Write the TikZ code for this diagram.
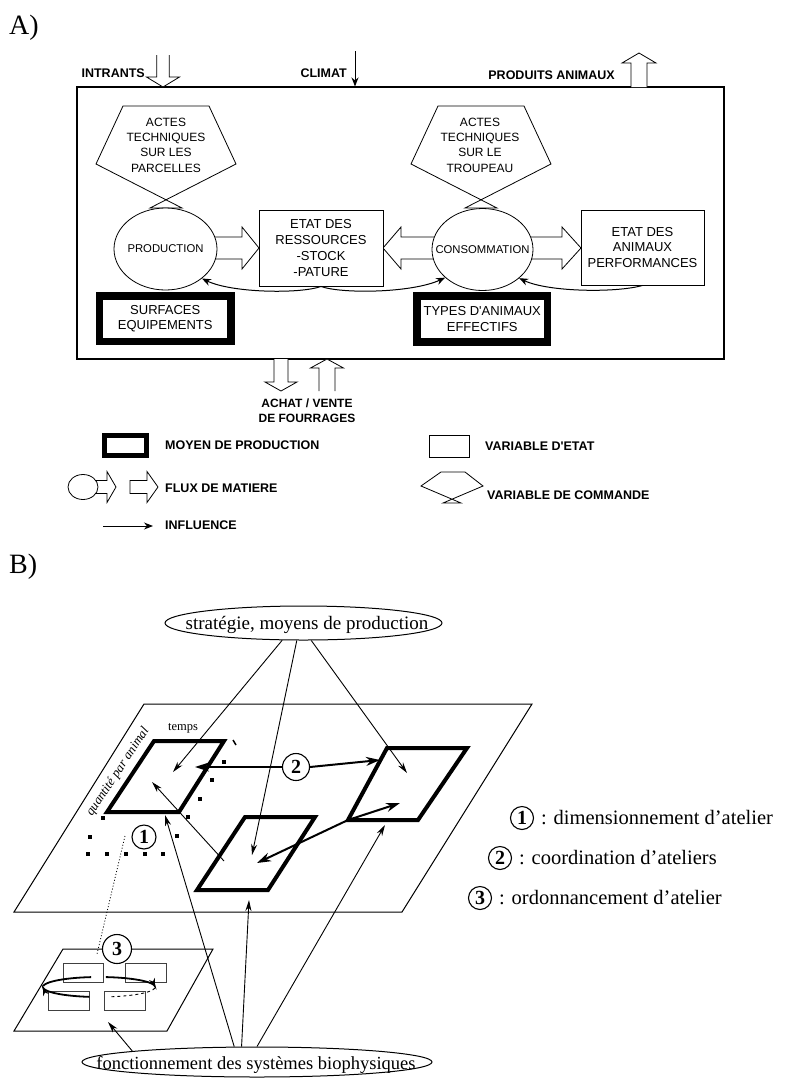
\documentclass[tikz,border=0pt]{standalone}
\usepackage{fontspec}
\setmainfont{Liberation Serif}
\newfontfamily\arialf{Liberation Sans}
\usetikzlibrary{arrows.meta,backgrounds,shapes.geometric}
\tikzset{
  pics/harrow/.style args={#1/#2/#3/#4}{code={%
    \fill[white] (0,-#2) -- (#1-#4,-#2) -- (#1-#4,-#3) -- (#1,0) -- (#1-#4,#3) -- (#1-#4,#2) -- (0,#2) -- cycle;
    \draw[line width=0.8pt, line join=miter] (0,-#2) -- (#1-#4,-#2) -- (#1-#4,-#3) -- (#1,0) -- (#1-#4,#3) -- (#1-#4,#2) -- (0,#2);}},
  pics/harrowc/.style args={#1/#2/#3/#4}{code={%
    \draw[line width=0.8pt, line join=miter, fill=white] (0,-#2) -- (#1-#4,-#2) -- (#1-#4,-#3) -- (#1,0) -- (#1-#4,#3) -- (#1-#4,#2) -- (0,#2) -- cycle;}},
  lbl/.style={font=\arialf\bfseries\fontsize{12.5}{15}\selectfont, inner sep=0pt},
  boxtxt/.style={font=\arialf\fontsize{13}{15.7}\selectfont, align=center, inner sep=0pt},
  cmdtxt/.style={font=\arialf\fontsize{12}{15.3}\selectfont, align=center, inner sep=0pt},
  celltxt/.style={font=\arialf\fontsize{11.3}{13}\selectfont, inner sep=0pt},
  statebox/.style={draw, line width=0.9pt, fill=white, inner sep=0pt},
  meanbox/.style={draw, line width=7.5pt, fill=white, inner sep=0pt, line join=miter},
  cell/.style={draw, ellipse, line width=0.8pt, fill=white, inner sep=0pt},
  infl/.style={-{Stealth[length=9pt,width=7pt]}, line width=1pt},
  cmdshape/.style={line width=0.8pt, line join=miter},
  serif/.style={font=\fontsize{20.5}{24}\selectfont, inner sep=0pt},
  plane/.style={line width=1pt},
  atelier/.style={line width=4pt, line join=miter},
  thinarr/.style={-{Stealth[length=11pt,width=6pt]}, line width=0.9pt},
  thickarr/.style={-{Stealth[length=14pt,width=9pt]}, line width=2pt},
  num/.style={draw, circle, line width=1.1pt, fill=white, inner sep=0pt, font=\bfseries\fontsize{20}{20}\selectfont},
  bigtitle/.style={font=\fontsize{28}{28}\selectfont, anchor=west, inner sep=0pt},
  ell/.style={draw, ellipse, line width=1pt, inner sep=0pt},
}
\begin{document}
\begin{tikzpicture}[x=1pt,y=-1pt]
\useasboundingbox (0,0) rectangle (785,1080);
\begin{pgfonlayer}{background}
\fill[white] (0,0) rectangle (785,1080);
\end{pgfonlayer}

% ================= A =================
\node[bigtitle] (labA) at (9,28) {A)};
\node[draw, line width=1.1pt, minimum width=647pt, minimum height=272pt, inner sep=0pt] (sys) at (400.5,223) {};

\node[lbl, anchor=east] (intr) at (145,73) {INTRANTS};
\coordinate (intrtail) at (163,55);
\pic[rotate=-90] at (intrtail) {harrow=32/6.25/16.5/10};
\node[lbl, anchor=east] (clim) at (347,73) {CLIMAT};
\coordinate (climtop) at (355,51);
\draw[infl] (climtop) -- (climtop |- sys.north);
\node[lbl, anchor=east] (prodan) at (615,75) {PRODUITS ANIMAUX};
\coordinate (prodtail) at (639,87);
\pic[rotate=90] at (prodtail) {harrow=34/8/17/10};

% commands (pentagons)
\draw[cmdshape] (96,164) -- (123,106) -- (209,106) -- (236,164) -- (150,208) -- (182,208) -- cycle;
\draw[cmdshape] (411,164) -- (438,106) -- (524,106) -- (551,164) -- (465,208) -- (497,208) -- cycle;
\node[cmdtxt] (cmdL) at (166,145) {ACTES\\TECHNIQUES\\SUR LES\\PARCELLES};
\node[cmdtxt] (cmdR) at (480,145) {ACTES\\TECHNIQUES\\SUR LE\\TROUPEAU};

% flows (hollow arrows, behind)
\begin{pgfonlayer}{background}
\pic at (200,248) {harrow=59/11/21/17};
\pic[rotate=180] at (445,248) {harrow=62/11/21/18};
\pic at (520,248) {harrow=61/11/21/19};
\pic at (92,487) {harrow=24/6.5/15.5/9};
\end{pgfonlayer}

\node[cell, minimum width=103pt, minimum height=82pt] (prod) at (165.5,249) {};
\node[celltxt] at (prod) {PRODUCTION};
\node[cell, minimum width=101pt, minimum height=82pt] (cons) at (482.5,249.5) {};
\node[celltxt] at (cons) {CONSOMMATION};

\node[statebox, boxtxt, minimum width=124pt, minimum height=76pt] (res) at (321,248) {ETAT DES\\RESSOURCES\\-STOCK\\-PATURE};
\node[statebox, boxtxt, minimum width=123pt, minimum height=75pt] (anim) at (642.5,247.5) {ETAT DES\\ANIMAUX\\PERFORMANCES};

\node[meanbox, boxtxt, minimum width=131.5pt, minimum height=45.5pt] (surf) at (165.25,318.75) {SURFACES\\EQUIPEMENTS};
\node[meanbox, boxtxt, minimum width=130.5pt, minimum height=46pt] (types) at (482.25,319) {TYPES D'ANIMAUX\\EFFECTIFS};

\draw[infl] (res.south) .. controls (300,294) and (232,293) .. (prod.-39);
\draw[infl] (res.south) .. controls (342,294) and (412,293) .. (cons.-143);
\draw[infl] (anim.south) .. controls (616,293) and (548,292) .. (cons.-38);

\coordinate (achdown) at (281,359);
\coordinate (achup) at (327,391);
\pic[rotate=-90] at (achdown) {harrow=32/7/16/9};
\pic[rotate=90] at (achup) {harrow=32/8/16.5/9};
\node[lbl, align=center, font=\arialf\bfseries\fontsize{12}{15}\selectfont] (achat) at (307,410.5) {ACHAT / VENTE\\DE FOURRAGES};

% legend
\node[meanbox, line width=5pt, minimum width=42pt, minimum height=20pt] (lmean) at (125.5,445.5) {};
\node[lbl, anchor=west] (tmean) at (165,445) {MOYEN DE PRODUCTION};
\node[statebox, minimum width=40pt, minimum height=22pt] (lstate) at (449,446) {};
\node[lbl, anchor=west] (tstate) at (485,446) {VARIABLE D'ETAT};
\node[cell, minimum width=30pt, minimum height=25pt] (lcell) at (83,487) {};
\pic at (130,487) {harrowc=28/6.5/15.5/11};
\node[lbl, anchor=west] (tflux) at (165,488) {FLUX DE MATIERE};
\draw[cmdshape] (421,486) -- (441,472) -- (465,472) -- (483,486) -- (443,503) -- (461,503) -- cycle;
\node[lbl, anchor=west] (tcmd) at (487,495) {VARIABLE DE COMMANDE};
\coordinate (linfa) at (103,526);
\coordinate (linfb) at (153,526);
\draw[infl] (linfa) -- (linfb);
\node[lbl, anchor=west] (tinfl) at (165,525) {INFLUENCE};

% ================= B =================
\node[bigtitle] (labB) at (9,567) {B)};

\node[ell, minimum width=277pt, minimum height=34pt] (strat) at (303.5,623) {};
\node[font=\fontsize{19}{20}\selectfont, inner sep=0pt] at (307,625) {stratégie, moyens de production};

\draw[plane] (144,704) -- (532,704) -- (402,912) -- (14,912) -- cycle;
\draw[atelier] (154,741) -- (224,741) -- (179,812) -- (107,812) -- cycle;
\draw[atelier] (245,817) -- (315,817) -- (268,890) -- (197,890) -- cycle;
\draw[atelier] (387,748) -- (467,748) -- (418,820) -- (348,820) -- cycle;
\coordinate (rcorner) at (348,820);

\foreach \p in {(224,762),(212,780),(200,799),(188,817),(177,836),(163,854),(145,854),(126,854),(107,854),(88,854),(90,837),(103,818)}
  \fill \p ++(-2.2,-2.2) rectangle ++(4.4,4.4);
\draw[line width=1.5pt] (233,740) -- (236,745);

\node[font=\fontsize{12.5}{13}\selectfont, inner sep=0pt] (temps) at (183,728) {temps};
\node[font=\itshape\fontsize{13}{13}\selectfont, inner sep=0pt, rotate=56.5] (qpa) at (118,772) {quantité par animal};

\coordinate (tL) at (173,772);
\coordinate (tM) at (252,855);
\coordinate (tR) at (407,773);
\draw[thinarr] (strat.-141) -- (tL);
\draw[thinarr] (strat.-111) -- (tM);
\draw[thinarr] (strat.-66) -- (tR);

\coordinate (mstart) at (224,861);
\coordinate (lup) at (152,782);
\draw[thinarr] (mstart) -- (lup);

\node[num, minimum size=24pt] (n1) at (144,837) {1};
\node[num, minimum size=27pt] (n2) at (296,767) {2};
\coordinate (dL) at (195,767);
\coordinate (dR) at (380,760);
\draw[thickarr] (n2.west) -- (dL);
\draw[thickarr] (n2.east) -- (dR);
\coordinate (dM) at (257,863);
\coordinate (dRin) at (400,803);
\draw[thickarr] (rcorner) -- (dM);
\draw[thickarr] (rcorner) -- (dRin);

% lower plane
\draw[plane] (63,949) -- (213,949) -- (167,1031) -- (14,1031) -- cycle;
\draw[line width=0.7pt, black!75] (63,963) rectangle (103,982);
\draw[line width=0.7pt, black!75] (125,963) rectangle (166,982);
\draw[line width=0.7pt, black!75] (48,991) rectangle (89,1010);
\draw[line width=0.7pt, black!75] (104,991) rectangle (145,1010);
\draw[line width=1.8pt] plot[domain=185:262, samples=25, smooth] ({99+56*cos(\x)},{987+10*sin(\x)});
\draw[line width=1.8pt, -{Stealth[length=8pt,width=6pt]}] plot[domain=277:357, samples=25, smooth] ({99+56*cos(\x)},{987+10*sin(\x)});
\draw[line width=0.9pt, dashed] plot[domain=5:80, samples=25, smooth] ({99+56*cos(\x)},{987+10*sin(\x)});
\draw[line width=1.8pt, -{Stealth[length=8pt,width=6pt]}] plot[domain=100:177, samples=25, smooth] ({99+56*cos(\x)},{987+10*sin(\x)});

\coordinate (dt) at (125,836);
\coordinate (db) at (97,954);
\draw[line width=0.8pt, dash pattern=on 1pt off 2pt] (dt) -- (db);
\node[num, minimum size=29pt] (n3) at (117,949) {3};

\node[ell, minimum width=350pt, minimum height=30pt] (fonc) at (257,1062) {};
\node[font=\fontsize{18.5}{20}\selectfont, inner sep=0pt] at (256,1065) {fonctionnement des systèmes biophysiques};
\coordinate (fL) at (165,815);
\coordinate (fM) at (249,900);
\coordinate (fR) at (385,825);
\coordinate (fS) at (108,1022);
\draw[thinarr] (fonc.146) -- (fL);
\draw[thinarr] (fonc.135) -- (fM);
\draw[thinarr] (fonc.90) -- (fR);
\draw[thinarr] (fonc.175) -- (fS);

% key
\node[num, minimum size=23pt] (k1) at (522,818) {1};
\node[serif, anchor=west] (k1t) at (541,818) {: dimensionnement d'atelier};
\node[num, minimum size=23pt] (k2) at (500,858) {2};
\node[serif, anchor=west] (k2t) at (519,858) {: coordination d'ateliers};
\node[num, minimum size=23pt] (k3) at (480,898) {3};
\node[serif, anchor=west] (k3t) at (499,898) {: ordonnancement d'atelier};
\end{tikzpicture}
\end{document}
